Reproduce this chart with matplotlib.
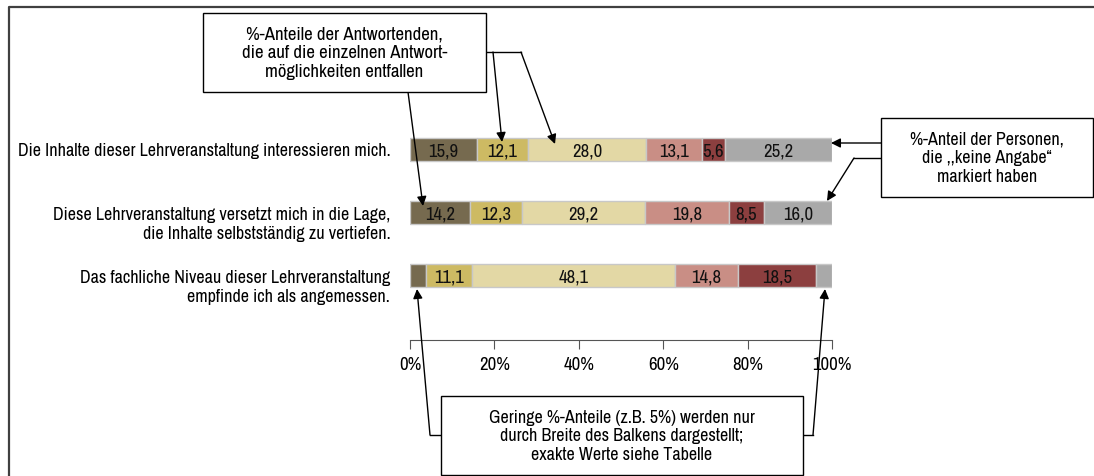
import matplotlib
matplotlib.use('Agg')
import matplotlib.pyplot as plt
from matplotlib.lines import Line2D
from matplotlib.patches import FancyArrowPatch, Rectangle

plt.rcParams['font.family'] = ['Archivo Narrow', 'Roboto Condensed', 'PT Sans Narrow', 'DejaVu Sans']

# Daten
questions = [
    'Die Inhalte dieser Lehrveranstaltung interessieren mich.',
    'Diese Lehrveranstaltung versetzt mich in die Lage,\ndie Inhalte selbstständig zu vertiefen.',
    'Das fachliche Niveau dieser Lehrveranstaltung\nempfinde ich als angemessen.',
]
row1 = [15.9, 12.1, 28.0, 13.1, 5.6, 25.2]
row2 = [14.2, 12.3, 29.2, 19.8, 8.5, 16.0]
row3 = [3.7, 11.1, 48.1, 14.8, 18.5, 3.7]
colors = ['#766a4f', '#cdba63', '#e3d8a5', '#c98e85', '#8c3f3f', '#a9a9a9']
ticks = [0, 20, 40, 60, 80, 100]

W, H = 1094, 477
fig = plt.figure(figsize=(W / 100, H / 100), dpi=100)

def px(x, y):
    return (x / W, 1 - y / H)

# Achse: 0% bei x=410px, 100% bei x=832px, Achsenlinie bei y=341px
ax = fig.add_axes([410 / W, 1 - 341 / H, 422 / W, (341 - 130) / H])
ax.set_xlim(0, 100)
ax.set_ylim(-1.016, 2.333)

data = [row1, row2, row3]
ypos = [2, 1, 0]
for vals, y in zip(data, ypos):
    left = 0
    for v, c in zip(vals, colors):
        ax.barh(y, v, left=left, height=0.365, color=c, edgecolor='#c8c8c8', linewidth=1)
        if v >= 5:
            ax.text(left + v / 2, y - 0.01, f'{v:.1f}'.replace('.', ','), ha='center', va='center',
                    fontsize=13.5, color='#111111')
        left += v

for q, y in zip(questions, ypos):
    off = 0 if '\n' not in q else -0.167
    ax.text(-4.7, y + off, q, ha='right', va='center', fontsize=13, linespacing=1.2)

for s in ['top', 'right', 'left']:
    ax.spines[s].set_visible(False)
ax.spines['bottom'].set_color('#555555')
ax.set_yticks([])
ax.set_xticks(ticks)
ax.set_xticklabels([f'{t}%' for t in ticks], fontsize=13.5)
ax.tick_params(axis='x', direction='out', length=6.5, color='#555555', pad=5)

# Rahmen
fig.add_artist(Line2D([9 / W, 9 / W, 1.0], [0, 1 - 8 / H, 1 - 8 / H],
                      color='#404040', linewidth=1.6))

def box(x0, y0, x1, y1, text, fs=13):
    a = px(x0, y1)
    fig.add_artist(Rectangle(a, (x1 - x0) / W, (y1 - y0) / H, facecolor='white',
                             edgecolor='black', linewidth=1.0, zorder=5))
    c = px((x0 + x1) / 2, (y0 + y1) / 2)
    fig.text(c[0], c[1], text, ha='center', va='center', fontsize=fs,
             linespacing=1.2, zorder=6)

def polyline(pts):
    xs = [px(*p)[0] for p in pts]
    ys = [px(*p)[1] for p in pts]
    fig.add_artist(Line2D(xs, ys, color='black', linewidth=1.0))

def arrow(p0, p1):
    fig.add_artist(FancyArrowPatch(px(*p0), px(*p1), arrowstyle='-|>', mutation_scale=14,
                                   color='black', linewidth=1.0, shrinkA=0, shrinkB=0))

# Box oben
box(203, 14, 486, 93, '%-Anteile der Antwortenden,\ndie auf die einzelnen Antwort-\nmöglichkeiten entfallen', fs=13.5)
arrow((408, 93), (423, 207))
polyline([(486, 53), (521, 53)])
arrow((493, 53), (502, 143))
arrow((521, 53), (555, 145))

# Box rechts
box(881, 119, 1093, 198, '%-Anteil der Personen,\ndie ,,keine Angabe“\nmarkiert haben')
arrow((881, 144), (831, 144))
polyline([(881, 159), (854, 159)])
arrow((854, 159), (827, 202))

# Box unten
box(441, 397, 803, 476, 'Geringe %-Anteile (z.B. 5%) werden nur\ndurch Breite des Balkens dargestellt;\nexakte Werte siehe Tabelle')
polyline([(441, 436), (430, 436)])
arrow((430, 436), (417, 290))
polyline([(803, 436), (813, 436)])
arrow((813, 436), (825, 290))

fig.savefig('out.png', dpi=100)
